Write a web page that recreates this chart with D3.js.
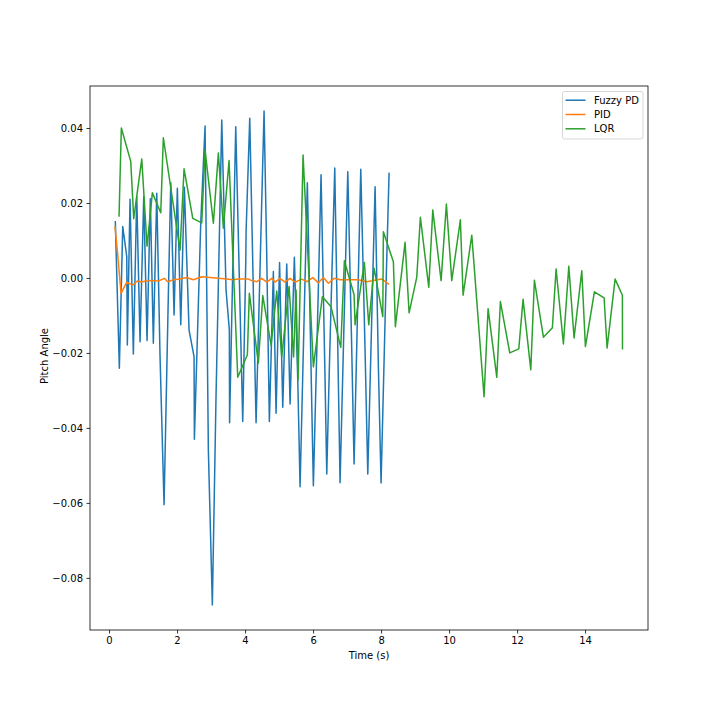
<!DOCTYPE html>
<html>
<head>
<meta charset="utf-8">
<script src="https://cdn.jsdelivr.net/npm/d3@7"></script>
<style>
  body { margin: 0; background: #fff; }
  text { font-family: "DejaVu Sans", sans-serif; }
</style>
</head>
<body>
<div id="chart"></div>
<script>
// ---- data ----
var seriesNames = ["Fuzzy PD", "PID", "LQR"];
var seriesColors = ["#1f77b4", "#ff7f0e", "#2ca02c"];

var fuzzyTime = [0.185,0.303,0.403,0.521,0.538,0.618,0.715,0.815,0.912,1.021,1.118,1.215,1.303,1.403,1.500,1.618,1.735,1.815,1.912,2.009,
  2.109,2.215,2.353,2.500,2.510,2.697,2.824,2.921,3.038,3.147,3.168,3.315,3.441,3.538,3.545,3.726,3.932,4.021,4.030,4.138,
  4.324,4.559,4.632,4.715,4.832,4.912,5.015,5.109,5.226,5.324,5.450,5.550,5.618,5.832,5.932,6.009,6.156,6.235,6.353,6.403,
  6.479,6.638,6.794,7.021,7.138,7.206,7.403,7.529,7.609,7.824,7.921,8.000,8.118,8.235];
var fuzzyPitch = [0.0150,-0.0241,0.0137,0.0057,-0.0179,0.0210,-0.0203,0.0217,-0.0170,0.0217,-0.0167,0.0211,-0.0174,0.0226,-0.0210,-0.0605,-0.0085,0.0254,-0.0099,0.0239,
  -0.0125,0.0242,-0.0139,-0.0210,-0.0430,0.0147,0.0405,-0.0459,-0.0872,-0.0312,-0.0223,0.0421,-0.0032,-0.0139,-0.0386,0.0403,-0.0383,0.0043,0.0123,0.0426,
  -0.0386,0.0445,0.0090,-0.0383,0.0017,-0.0361,0.0041,-0.0345,0.0037,-0.0336,0.0055,-0.0272,-0.0557,0.0254,-0.0201,-0.0554,-0.0027,0.0275,-0.0272,-0.0523,
  -0.0241,0.0293,-0.0546,0.0283,-0.0192,-0.0496,0.0290,-0.0192,-0.0523,0.0243,-0.0237,-0.0547,-0.0112,0.0279];

var pidTime = [0.176,0.256,0.353,0.521,0.697,0.832,0.962,1.079,1.256,1.450,1.626,1.726,1.891,2.088,2.285,2.479,2.726,2.971,3.215,3.462,
  3.647,3.803,3.950,4.097,4.197,4.344,4.491,4.638,4.785,4.882,5.029,5.176,5.324,5.471,5.668,5.815,5.991,6.156,6.303,6.450,
  6.618,6.794,7.088,7.332,7.579,7.774,8.021,8.215];
var pidPitch = [0.0136,0.0061,-0.0041,-0.0011,-0.0019,-0.0008,-0.0011,-0.0008,-0.0007,-0.0008,-0.0001,-0.0010,-0.0005,-0.0003,0.0001,-0.0005,0.0003,0.0001,-0.0001,-0.0003,
  -0.0005,-0.0003,-0.0003,-0.0003,-0.0007,-0.0010,-0.0001,-0.0011,-0.0001,-0.0011,-0.0001,-0.0011,-0.0001,-0.0011,-0.0003,-0.0010,0.0001,-0.0013,0.0001,-0.0014,
  -0.0001,-0.0005,-0.0005,-0.0005,-0.0010,-0.0007,-0.0003,-0.0016];

var lqrTime = [0.294,0.362,0.638,0.726,0.962,1.118,1.274,1.521,1.597,2.088,2.206,2.462,2.726,2.824,3.068,3.215,3.362,3.529,3.785,4.068,
  4.126,4.391,4.521,4.765,4.932,5.079,5.294,5.426,5.500,5.559,5.706,6.009,6.274,6.529,6.815,6.921,7.206,7.235,7.509,7.638,
  7.794,8.050,8.068,8.362,8.421,8.706,8.824,9.050,9.156,9.403,9.521,9.765,9.921,10.079,10.332,10.412,10.668,11.029,11.147,11.403,
  11.509,11.785,12.050,12.176,12.403,12.509,12.774,13.038,13.147,13.362,13.521,13.676,13.903,14.009,14.274,14.559,14.647,14.882,15.097,15.100];
var lqrPitch = [0.0165,0.0400,0.0311,0.0158,0.0317,0.0085,0.0227,0.0174,0.0374,0.0074,0.0291,0.0159,0.0147,0.0341,0.0146,0.0333,0.0133,0.0313,-0.0265,-0.0205,
  -0.0041,-0.0227,-0.0047,-0.0179,-0.0035,-0.0210,-0.0023,-0.0211,-0.0032,-0.0272,0.0328,-0.0237,-0.0050,-0.0077,-0.0185,0.0046,-0.0045,-0.0125,0.0041,-0.0125,
  0.0026,-0.0103,0.0123,0.0043,-0.0130,0.0095,-0.0093,0.0002,0.0162,-0.0025,0.0181,-0.0007,0.0197,-0.0007,0.0155,-0.0046,0.0114,-0.0317,-0.0082,-0.0265,
  -0.0063,-0.0200,-0.0189,-0.0057,-0.0245,-0.0006,-0.0158,-0.0133,0.0024,-0.0176,0.0031,-0.0160,0.0019,-0.0183,-0.0037,-0.0053,-0.0187,-0.0003,-0.0046,-0.0189];

var xTicks = [0, 2, 4, 6, 8, 10, 12, 14];
var yTicks = [-0.08, -0.06, -0.04, -0.02, 0.00, 0.02, 0.04];

// ---- layout ----
var W = 720, H = 720;
var margin = {top: 86, right: 72, bottom: 90, left: 90},
    width = W - margin.left - margin.right,
    height = H - margin.top - margin.bottom;

var x = d3.scaleLinear().domain([-0.56, 15.85]).range([0, width]);
var y = d3.scaleLinear().domain([-0.0939, 0.0512]).range([height, 0]);

var svg = d3.select("#chart")
    .append("svg")
    .attr("width", W)
    .attr("height", H)
    .append("g")
    .attr("transform", "translate(" + margin.left + "," + margin.top + ")");

function zip(ts, vs) {
    return ts.map(function(t, i) { return {t: t, v: vs[i]}; });
}
var series = [zip(fuzzyTime, fuzzyPitch), zip(pidTime, pidPitch), zip(lqrTime, lqrPitch)];

var valueline = d3.line()
    .x(function(d) { return x(d.t); })
    .y(function(d) { return y(d.v); });

svg.append("defs").append("clipPath").attr("id", "clip")
    .append("rect").attr("width", width).attr("height", height);

var plot = svg.append("g").attr("clip-path", "url(#clip)");

series.forEach(function(s, i) {
    plot.append("path")
        .attr("class", "line")
        .attr("d", valueline(s))
        .style("fill", "none")
        .style("stroke", seriesColors[i])
        .style("stroke-width", "1.5px")
        .style("stroke-linejoin", "round")
        .style("stroke-linecap", "square");
});

// axes
var xAxis = d3.axisBottom(x)
    .tickValues(xTicks)
    .tickFormat(d3.format("d"))
    .tickSize(3.5)
    .tickPadding(3.5);

var yAxis = d3.axisLeft(y)
    .tickValues(yTicks)
    .tickFormat(d3.format(".2f"))
    .tickSize(3.5)
    .tickPadding(3.5);

var gx = svg.append("g")
    .attr("class", "x axis")
    .attr("transform", "translate(0," + height + ")")
    .call(xAxis);

var gy = svg.append("g")
    .attr("class", "y axis")
    .call(yAxis);

[gx, gy].forEach(function(g) {
    g.select(".domain").remove();
    g.selectAll("line").attr("stroke", "#000").attr("stroke-width", 0.8);
    g.selectAll("text").attr("fill", "#000").style("font-size", "10px")
        .style("font-family", "'DejaVu Sans', sans-serif");
});

// frame
svg.append("rect")
    .attr("width", width)
    .attr("height", height)
    .attr("fill", "none")
    .attr("stroke", "#000")
    .attr("stroke-width", 0.8);

// axis labels
svg.append("text")
    .attr("x", width / 2)
    .attr("y", height + 29)
    .attr("text-anchor", "middle")
    .style("font-size", "10px")
    .text("Time (s)");

svg.append("text")
    .attr("transform", "translate(" + (-46) + "," + (height / 2 - 2) + ") rotate(-90)")
    .attr("text-anchor", "middle")
    .attr("dy", "0.35em")
    .style("font-size", "10px")
    .text("Pitch Angle");

// legend
var legend = svg.append("g")
    .attr("transform", "translate(" + (width - 85.5) + ",5.5)");

legend.append("rect")
    .attr("width", 80.5)
    .attr("height", 47.5)
    .attr("rx", 2)
    .attr("fill", "#fff")
    .attr("fill-opacity", 0.8)
    .attr("stroke", "#ccc")
    .attr("stroke-width", 0.8);

seriesNames.forEach(function(name, i) {
    var ly = 8.7 + i * 14.3;
    legend.append("line")
        .attr("x1", 3).attr("x2", 23)
        .attr("y1", ly).attr("y2", ly)
        .attr("stroke", seriesColors[i])
        .attr("stroke-width", 1.5);
    legend.append("text")
        .attr("x", 31.5)
        .attr("y", ly)
        .attr("dy", "0.35em")
        .style("font-size", "10px")
        .text(name);
});
</script>
</body>
</html>
